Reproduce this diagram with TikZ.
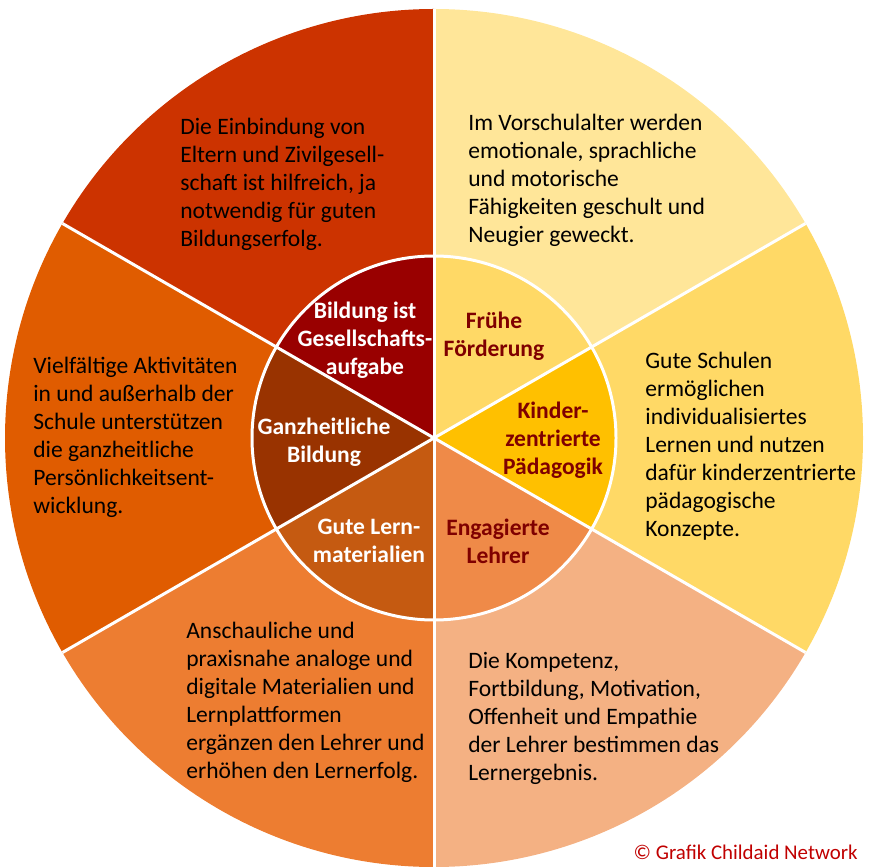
\documentclass[tikz,border=0pt]{standalone}
\usepackage{fontspec}
\setmainfont{Carlito}
\usetikzlibrary{positioning}
\definecolor{societyred}{HTML}{CC3300}
\definecolor{societyhub}{HTML}{990000}
\definecolor{earlypale}{HTML}{FFE699}
\definecolor{earlyhub}{HTML}{FFD966}
\definecolor{childgold}{HTML}{FFD966}
\definecolor{childhub}{HTML}{FFC000}
\definecolor{teacherpeach}{HTML}{F4B183}
\definecolor{teacherhub}{HTML}{EF8A48}
\definecolor{materialorange}{HTML}{ED7D31}
\definecolor{materialhub}{HTML}{C55A11}
\definecolor{holisticorange}{HTML}{E05C00}
\definecolor{holistichub}{HTML}{993300}
\definecolor{labeldark}{HTML}{7F0000}
\definecolor{creditred}{HTML}{C00000}

\tikzset{
  wedgetext/.style={font=\fontsize{13.4}{15.9}\selectfont, align=left, anchor=north west, inner sep=0pt, text=black},
  hublabel/.style={font=\fontsize{13.4}{15.9}\selectfont\bfseries, align=center, inner sep=0pt},
  divider/.style={white, line width=1.7pt}
}

\begin{document}
\begin{tikzpicture}[x=0.02cm, y=0.02cm]
  \useasboundingbox (0,0) rectangle (871,866);
  \coordinate (hub) at (434,428);

  % Outer ring
  \fill[societyred] (hub) -- ++(90:429) arc[start angle=90, end angle=150, radius=429] -- cycle;
  \fill[earlypale] (hub) -- ++(30:429) arc[start angle=30, end angle=90, radius=429] -- cycle;
  \fill[childgold] (hub) -- ++(-30:429) arc[start angle=-30, end angle=30, radius=429] -- cycle;
  \fill[teacherpeach] (hub) -- ++(-90:429) arc[start angle=-90, end angle=-30, radius=429] -- cycle;
  \fill[materialorange] (hub) -- ++(210:429) arc[start angle=210, end angle=270, radius=429] -- cycle;
  \fill[holisticorange] (hub) -- ++(150:429) arc[start angle=150, end angle=210, radius=429] -- cycle;

  % Inner ring
  \fill[societyhub] (hub) -- ++(90:182) arc[start angle=90, end angle=150, radius=182] -- cycle;
  \fill[earlyhub] (hub) -- ++(30:182) arc[start angle=30, end angle=90, radius=182] -- cycle;
  \fill[childhub] (hub) -- ++(-30:182) arc[start angle=-30, end angle=30, radius=182] -- cycle;
  \fill[teacherhub] (hub) -- ++(-90:182) arc[start angle=-90, end angle=-30, radius=182] -- cycle;
  \fill[materialhub] (hub) -- ++(210:182) arc[start angle=210, end angle=270, radius=182] -- cycle;
  \fill[holistichub] (hub) -- ++(150:182) arc[start angle=150, end angle=210, radius=182] -- cycle;

  % Dividers
  \foreach \a in {30,90,...,330}
    \draw[divider] (hub) -- ++(\a:429);
  \draw[divider] (hub) circle[radius=182];

  % Hub labels
  \node[hublabel, text=white] (society) at (365,526) {Bildung ist\\Gesellschafts-\\aufgabe};
  \node[hublabel, text=labeldark] (early) at (494,530) {Frühe\\Förderung};
  \node[hublabel, text=labeldark] (child) at (553,426) {Kinder-\\zentrierte\\Pädagogik};
  \node[hublabel, text=labeldark] (teacher) at (498,325) {Engagierte\\Lehrer};
  \node[hublabel, text=white] (material) at (369,325) {Gute Lern-\\materialien};
  \node[hublabel, text=white] (holistic) at (324,424) {Ganzheitliche\\Bildung};

  % Outer texts
  \node[wedgetext] (societytext) at (180,748) {Die Einbindung von\\Eltern und Zivilgesell-\\schaft ist hilfreich, ja\\notwendig für guten\\Bildungserfolg.};
  \node[wedgetext] (earlytext) at (468,752) {Im Vorschulalter werden\\emotionale, sprachliche\\und motorische\\Fähigkeiten geschult und\\Neugier geweckt.};
  \node[wedgetext] (childtext) at (645,514) {Gute Schulen\\ermöglichen\\individualisiertes\\Lernen und nutzen\\dafür kinderzentrierte\\pädagogische\\Konzepte.};
  \node[wedgetext] (teachertext) at (468,214) {Die Kompetenz,\\Fortbildung, Motivation,\\Offenheit und Empathie\\der Lehrer bestimmen das\\Lernergebnis.};
  \node[wedgetext] (materialtext) at (186,244) {Anschauliche und\\praxisnahe analoge und\\digitale Materialien und\\Lernplattformen\\ergänzen den Lehrer und\\erhöhen den Lernerfolg.};
  \node[wedgetext] (holistictext) at (33,509) {Vielfältige Aktivitäten\\in und außerhalb der\\Schule unterstützen\\die ganzheitliche\\Persönlichkeitsent-\\wicklung.};

  % Credit
  \node[font=\fontsize{11.9}{15.9}\selectfont, text=creditred, anchor=east, inner sep=0pt] (credit) at (858,14) {© Grafik Childaid Network};
\end{tikzpicture}
\end{document}
